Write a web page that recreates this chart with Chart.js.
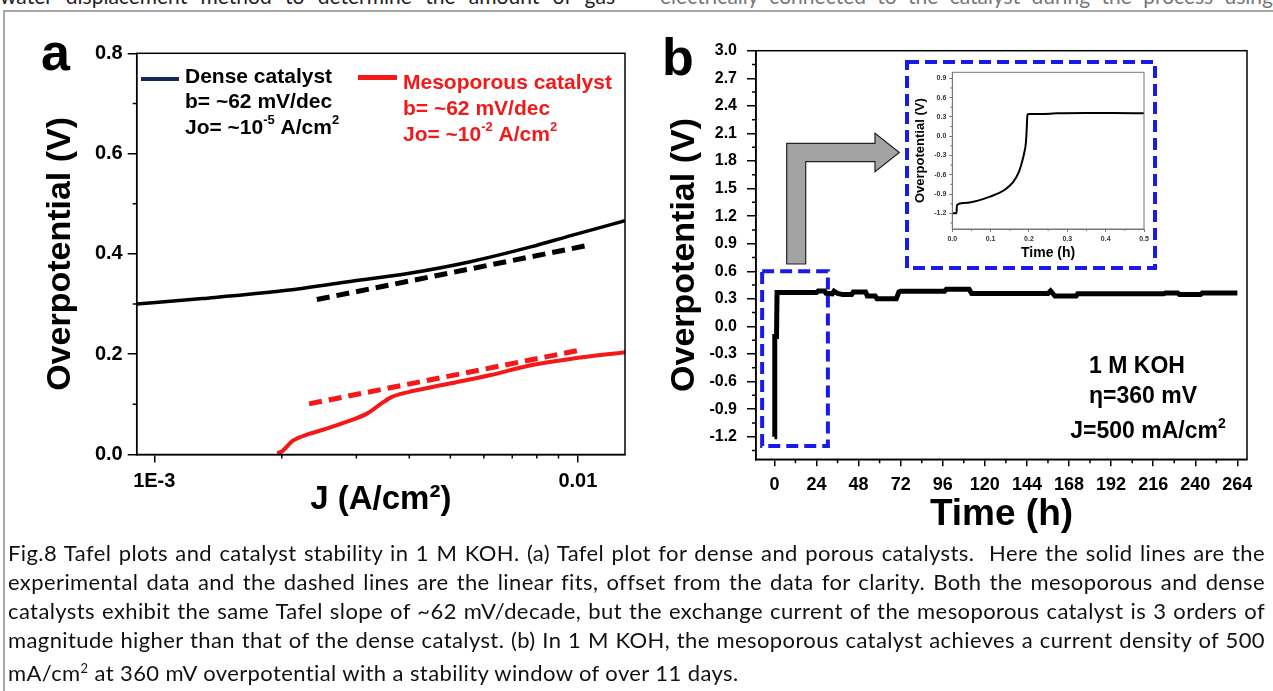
<!DOCTYPE html>
<html>
<head>
<meta charset="utf-8">
<script src="https://cdn.jsdelivr.net/npm/chart.js@4.4.1/dist/chart.umd.min.js"></script>
<style>
  html, body { margin: 0; padding: 0; background: #fff; }
  #page { position: relative; width: 1273px; height: 691px; overflow: hidden; background: #fff; }
  #frame { position: absolute; left: 3px; top: 10px; width: 1300px; height: 720px; border: 2px solid #a8a8a8; box-sizing: border-box; }
  canvas { position: absolute; }
  #tafel { left: 0; top: 0; }
  #stab { left: 640px; top: 0; }
  #inset { left: 910px; top: 64px; }
  .top { position: absolute; top: -15px; font-family: Lato, sans-serif; font-size: 21px; line-height: 21px;
         text-align: justify; text-align-last: justify; white-space: nowrap; }
  .ln { position: absolute; left: 8px; width: 1257px; font-family: Lato, sans-serif; font-size: 22px; line-height: 29px;
        letter-spacing: 0.4px; color: #111; text-align: justify; text-align-last: justify; }
  .ln.last { text-align-last: left; }
</style>
</head>
<body>
<div id="page">
  <div class="top" style="left:0; width:615px; color:#222;">water displacement method to determine the amount of gas</div>
  <div class="top" style="left:660px; width:613px; color:#777;">electrically connected to the catalyst during the process using</div>
  <div id="frame"></div>
  <canvas id="tafel" width="640" height="540"></canvas>
  <canvas id="stab" width="633" height="540"></canvas>
  <canvas id="inset" width="242" height="200"></canvas>
  <div class="ln" style="top:538px;">Fig.8 Tafel plots and catalyst stability in 1 M KOH. (a) Tafel plot for dense and porous catalysts.&nbsp; Here the solid lines are the</div>
  <div class="ln" style="top:567px;">experimental data and the dashed lines are the linear fits, offset from the data for clarity. Both the mesoporous and dense</div>
  <div class="ln" style="top:596px;">catalysts exhibit the same Tafel slope of ~62 mV/decade, but the exchange current of the mesoporous catalyst is 3 orders of</div>
  <div class="ln" style="top:625px;">magnitude higher than that of the dense catalyst. (b) In 1 M KOH, the mesoporous catalyst achieves a current density of 500</div>
  <div class="ln last" style="top:654px;">mA/cm<sup style="font-size:13px;">2</sup> at 360 mV overpotential with a stability window of over 11 days.</div>
</div>
<script>
// (a) Tafel plot: current density J (A/cm2) vs overpotential (V)
const denseJ = [9.09e-4, 1.30e-3, 2.03e-3, 2.84e-3, 3.97e-3, 5.54e-3, 7.74e-3, 9.67e-3, 0.01292];
const denseV = [0.300, 0.311, 0.327, 0.344, 0.361, 0.384, 0.414, 0.437, 0.466];
const denseFitJ = [2.42e-3, 0.01057];
const denseFitV = [0.309, 0.417];
const mesoJ = [1.95e-3, 2.0e-3, 2.03e-3, 2.12e-3, 2.32e-3, 2.54e-3, 2.84e-3, 3.17e-3, 3.39e-3, 3.62e-3, 3.96e-3, 4.95e-3, 6.19e-3, 7.74e-3, 9.67e-3, 0.01292];
const mesoV = [0.003, 0.006, 0.011, 0.027, 0.041, 0.051, 0.065, 0.081, 0.098, 0.114, 0.124, 0.141, 0.158, 0.178, 0.191, 0.204];
const mesoFitJ = [2.32e-3, 0.0101];
const mesoFitV = [0.101, 0.208];
const jTicks = [0.001, 0.01];
const jTickLabels = ['1E-3', '0.01'];
const jMinor = [0.002, 0.003, 0.004, 0.005, 0.006, 0.007, 0.008, 0.009];
const etaTicks = [0, 0.2, 0.4, 0.6, 0.8];
const etaMinor = [0.1, 0.3, 0.5, 0.7];

// (b) stability run at 500 mA/cm2
const timeH = [0, 0.2, 1.2, 1.5, 24, 25, 28.5, 29.5, 33, 34, 36, 39, 44, 45, 52, 53, 57.5, 58.5, 69.5, 71, 72, 97, 98, 111, 112.5, 156, 157.5, 160, 172, 173, 222, 223, 230, 231, 243, 244, 264];
const etaB = [-1.2, -0.11, -0.11, 0.368, 0.368, 0.386, 0.386, 0.36, 0.355, 0.383, 0.36, 0.346, 0.346, 0.375, 0.375, 0.33, 0.33, 0.30, 0.30, 0.375, 0.383, 0.383, 0.404, 0.404, 0.357, 0.357, 0.386, 0.33, 0.33, 0.354, 0.354, 0.364, 0.364, 0.346, 0.346, 0.364, 0.364];
const timeTicks = [0, 24, 48, 72, 96, 120, 144, 168, 192, 216, 240, 264];
const timeMinor = [12, 36, 60, 84, 108, 132, 156, 180, 204, 228, 252];
const etaBTicks = [-1.2, -0.9, -0.6, -0.3, 0, 0.3, 0.6, 0.9, 1.2, 1.5, 1.8, 2.1, 2.4, 2.7, 3.0];
const etaBMinor = [-1.35, -1.05, -0.75, -0.45, -0.15, 0.15, 0.45, 0.75, 1.05, 1.35, 1.65, 1.95, 2.25, 2.55, 2.85];
const zoomBoxT = [-7, 30.5, 30.5, -7, -7];
const zoomBoxV = [0.6, 0.6, -1.3, -1.3, 0.6];

// inset: first half hour
const insetT = [0, 0.011, 0.012, 0.03, 0.055, 0.08, 0.098, 0.124, 0.142, 0.159, 0.172, 0.181, 0.188, 0.192, 0.194, 0.196, 0.2, 0.23, 0.272, 0.35, 0.42, 0.5];
const insetV = [-1.2, -1.2, -1.07, -1.04, -1.02, -0.98, -0.94, -0.88, -0.81, -0.71, -0.58, -0.42, -0.25, -0.1, 0.1, 0.33, 0.345, 0.345, 0.355, 0.36, 0.36, 0.355];
const insetTTicks = [0, 0.1, 0.2, 0.3, 0.4, 0.5];
const insetTMinor = [0.05, 0.15, 0.25, 0.35, 0.45];
const insetVTicks = [-1.2, -0.9, -0.6, -0.3, 0, 0.3, 0.6, 0.9];
const insetVMinor = [-1.35, -1.05, -0.75, -0.45, -0.15, 0.15, 0.45, 0.75];

const FONT = "'Liberation Sans', Arial, sans-serif";
Chart.defaults.font.family = FONT;
Chart.defaults.font.weight = 'bold';
Chart.defaults.color = '#000';

const xy = (xs, ys) => xs.map((x, i) => ({ x: x, y: ys[i] }));
const fixTicks = vals => scale => { scale.ticks = vals.map(v => ({ value: v })); };

// box around the plot + minor ticks
const axisExtras = {
  id: 'axisExtras',
  afterDraw(chart, args, o) {
    const { ctx, chartArea: a, scales } = chart;
    ctx.save();
    ctx.strokeStyle = o.color;
    ctx.lineWidth = o.width;
    ctx.strokeRect(a.left, a.top, a.right - a.left, a.bottom - a.top);
    ctx.beginPath();
    (o.minorX || []).forEach(v => {
      const px = scales.x.getPixelForValue(v);
      ctx.moveTo(px, a.bottom); ctx.lineTo(px, a.bottom + o.len);
    });
    (o.minorY || []).forEach(v => {
      const py = scales.y.getPixelForValue(v);
      ctx.moveTo(a.left, py); ctx.lineTo(a.left - o.len, py);
    });
    ctx.stroke();
    ctx.restore();
  }
};
Chart.register(axisExtras);

// text with superscripts: parts are strings, or [string] for superscript
function rich(ctx, parts, x, y, size, color, align) {
  const fontOf = sup => `bold ${sup ? Math.round(size * 0.62) : size}px ${FONT}`;
  let w = 0;
  parts.forEach(p => { ctx.font = fontOf(Array.isArray(p)); w += ctx.measureText(Array.isArray(p) ? p[0] : p).width; });
  let cx = align === 'center' ? x - w / 2 : x;
  ctx.fillStyle = color;
  ctx.textBaseline = 'middle';
  ctx.textAlign = 'left';
  parts.forEach(p => {
    const sup = Array.isArray(p), s = sup ? p[0] : p;
    ctx.font = fontOf(sup);
    ctx.fillText(s, cx, sup ? y - size * 0.36 : y);
    cx += ctx.measureText(s).width;
  });
}

const tafelText = {
  id: 'tafelText',
  afterDraw(chart) {
    const ctx = chart.ctx;
    ctx.save();
    ctx.font = `bold 52px ${FONT}`;
    ctx.fillStyle = '#000';
    ctx.textBaseline = 'alphabetic';
    ctx.fillText('a', 41, 70);
    ctx.fillStyle = '#14285a';
    ctx.fillRect(141, 77, 38, 4);
    ctx.fillStyle = '#f41818';
    ctx.fillRect(358, 75, 39, 5);
    rich(ctx, ['Dense catalyst'], 185, 77, 21, '#000');
    rich(ctx, ['b= ~62 mV/dec'], 185, 102, 21, '#000');
    rich(ctx, ['Jo= ~10', ['-5'], ' A/cm', ['2']], 185, 128, 21, '#000');
    rich(ctx, ['Mesoporous catalyst'], 403, 83, 21, '#f41818');
    rich(ctx, ['b= ~62 mV/dec'], 403, 109, 21, '#f41818');
    rich(ctx, ['Jo= ~10', ['-2'], ' A/cm', ['2']], 403, 135, 21, '#f41818');
    ctx.restore();
  }
};

new Chart(document.getElementById('tafel'), {
  type: 'line',
  data: {
    datasets: [
      { data: xy(denseJ, denseV), borderColor: '#000', borderWidth: 3.5, pointRadius: 0, cubicInterpolationMode: 'monotone' },
      { data: xy(denseFitJ, denseFitV), borderColor: '#000', borderWidth: 5, borderDash: [13, 7], pointRadius: 0 },
      { data: xy(mesoJ, mesoV), borderColor: '#f41818', borderWidth: 4, pointRadius: 0, cubicInterpolationMode: 'monotone' },
      { data: xy(mesoFitJ, mesoFitV), borderColor: '#f41818', borderWidth: 5, borderDash: [13, 7], pointRadius: 0 }
    ]
  },
  options: {
    responsive: false,
    animation: false,
    layout: { padding: { left: 40, top: 53.3, right: 15, bottom: 0 } },
    plugins: {
      legend: { display: false },
      tooltip: { enabled: false },
      axisExtras: { color: '#000', width: 1.5, len: 4, minorX: jMinor, minorY: etaMinor }
    },
    scales: {
      x: {
        type: 'logarithmic', min: 9.09e-4, max: 0.01292,
        afterBuildTicks: fixTicks(jTicks),
        afterFit: s => { s.height = 85.5; },
        ticks: { callback: (v, i) => jTickLabels[i], font: { size: 20, weight: 'bold' }, padding: 7, maxRotation: 0, autoSkip: false, color: '#000' },
        grid: { drawOnChartArea: false, tickLength: 8, color: '#000', lineWidth: 1.5 },
        border: { color: '#000', width: 1.5 },
        title: { display: true, text: 'J (A/cm²)', font: { size: 33, weight: 'bold' }, padding: { top: 0, bottom: 20 }, color: '#000' }
      },
      y: {
        min: 0, max: 0.8,
        afterBuildTicks: fixTicks(etaTicks),
        afterFit: s => { s.width = 96.7; },
        ticks: { callback: v => v.toFixed(1), font: { size: 20, weight: 'bold' }, padding: 5, autoSkip: false, color: '#000' },
        grid: { drawOnChartArea: false, tickLength: 9, color: '#000', lineWidth: 1.5 },
        border: { color: '#000', width: 1.5 },
        title: { display: true, text: 'Overpotential (V)', font: { size: 34, weight: 'bold' }, padding: { top: 0, bottom: 0 }, color: '#000' }
      }
    }
  },
  plugins: [tafelText]
});

const stabText = {
  id: 'stabText',
  afterDraw(chart) {
    const ctx = chart.ctx;
    ctx.save();
    ctx.font = `bold 52px ${FONT}`;
    ctx.fillStyle = '#000';
    ctx.textBaseline = 'alphabetic';
    ctx.fillText('b', 22, 75);
    // inset frame
    ctx.strokeStyle = '#1a1ae8';
    ctx.lineWidth = 4;
    ctx.setLineDash([12, 6]);
    ctx.strokeRect(267, 62, 248, 206);
    ctx.setLineDash([]);
    // bent arrow
    ctx.beginPath();
    [[146.7, 264], [146.7, 143.3], [235, 143.3], [235, 133.3], [259.3, 152.5], [235, 171.7], [235, 161.7], [165.7, 161.7], [165.7, 264]]
      .forEach((p, i) => i ? ctx.lineTo(p[0], p[1]) : ctx.moveTo(p[0], p[1]));
    ctx.closePath();
    ctx.fillStyle = '#a3a3a3';
    ctx.fill();
    ctx.strokeStyle = '#222';
    ctx.lineWidth = 1.2;
    ctx.stroke();
    rich(ctx, ['1 M KOH'], 497, 367, 23, '#000', 'center');
    rich(ctx, ['η=360 mV'], 503, 397, 23, '#000', 'center');
    rich(ctx, ['J=500 mA/cm', ['2']], 508, 432, 23, '#000', 'center');
    ctx.restore();
  }
};

new Chart(document.getElementById('stab'), {
  type: 'line',
  data: {
    datasets: [
      { data: xy(timeH, etaB), borderColor: '#000', borderWidth: 5, pointRadius: 0, tension: 0 },
      { data: xy(zoomBoxT, zoomBoxV), borderColor: '#1a1ae8', borderWidth: 4, borderDash: [12, 6], pointRadius: 0, tension: 0 }
    ]
  },
  options: {
    responsive: false,
    animation: false,
    layout: { padding: { left: 24.6, top: 50.7, right: 26, bottom: 0 } },
    plugins: {
      legend: { display: false },
      tooltip: { enabled: false },
      axisExtras: { color: '#000', width: 1.5, len: 4, minorX: timeMinor, minorY: etaBMinor }
    },
    scales: {
      x: {
        type: 'linear', min: -10.5, max: 269.5,
        afterBuildTicks: fixTicks(timeTicks),
        afterFit: s => { s.height = 80.7; },
        ticks: { font: { size: 18, weight: 'bold' }, padding: 8, maxRotation: 0, autoSkip: false, color: '#000' },
        grid: { drawOnChartArea: false, tickLength: 7, color: '#000', lineWidth: 1.5 },
        border: { color: '#000', width: 1.5 },
        title: { display: true, text: 'Time (h)', font: { size: 37, weight: 'bold' }, padding: { top: 0, bottom: 3 }, color: '#000' }
      },
      y: {
        min: -1.446, max: 3.0,
        afterBuildTicks: fixTicks(etaBTicks),
        afterFit: s => { s.width = 91.4; },
        ticks: { callback: v => v.toFixed(1), font: { size: 16, weight: 'bold' }, padding: 10, autoSkip: false, color: '#000' },
        grid: { drawOnChartArea: false, tickLength: 9, color: '#000', lineWidth: 1.5 },
        border: { color: '#000', width: 1.5 },
        title: { display: true, text: 'Overpotential (V)', font: { size: 34, weight: 'bold' }, padding: { top: 0, bottom: 0 }, color: '#000' }
      }
    }
  },
  plugins: [stabText]
});

new Chart(document.getElementById('inset'), {
  type: 'line',
  data: {
    datasets: [
      { data: xy(insetT, insetV), borderColor: '#000', borderWidth: 2, pointRadius: 0, cubicInterpolationMode: 'monotone' }
    ]
  },
  options: {
    responsive: false,
    animation: false,
    layout: { padding: { left: 2.2, top: 8.3, right: 8, bottom: 0 } },
    plugins: {
      legend: { display: false },
      tooltip: { enabled: false },
      axisExtras: { color: '#777', width: 1, len: 2, minorX: insetTMinor, minorY: insetVMinor }
    },
    scales: {
      x: {
        type: 'linear', min: 0, max: 0.5,
        afterBuildTicks: fixTicks(insetTTicks),
        afterFit: s => { s.height = 35; },
        ticks: { callback: v => v.toFixed(1), font: { size: 7, weight: 'bold' }, padding: 3, maxRotation: 0, autoSkip: false, color: '#333' },
        grid: { drawOnChartArea: false, tickLength: 3, color: '#777', lineWidth: 1 },
        border: { color: '#777', width: 1 },
        title: { display: true, text: 'Time (h)', font: { size: 14, weight: 'bold' }, padding: { top: 0, bottom: 2.6 }, color: '#000' }
      },
      y: {
        min: -1.444, max: 0.993,
        afterBuildTicks: fixTicks(insetVTicks),
        afterFit: s => { s.width = 40.1; },
        ticks: { callback: v => v.toFixed(1), font: { size: 7, weight: 'bold' }, padding: 3, autoSkip: false, color: '#333' },
        grid: { drawOnChartArea: false, tickLength: 3, color: '#777', lineWidth: 1 },
        border: { color: '#777', width: 1 },
        title: { display: true, text: 'Overpotential (V)', font: { size: 13, weight: 'bold' }, padding: { top: 0, bottom: 0 }, color: '#000' }
      }
    }
  }
});
</script>
</body>
</html>
